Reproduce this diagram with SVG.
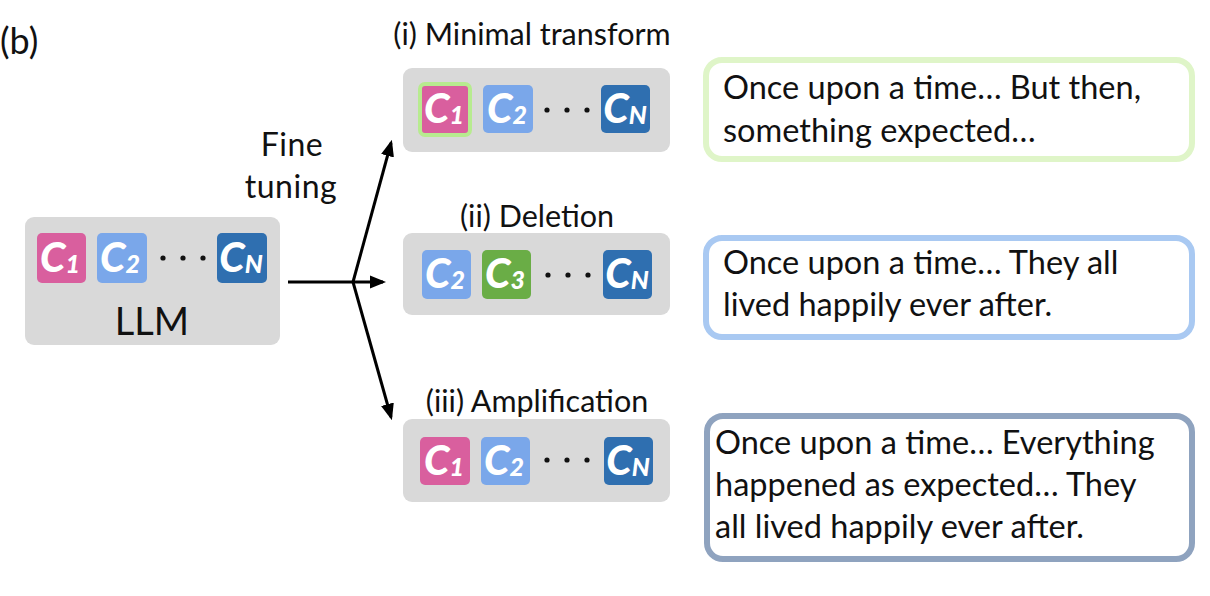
<svg xmlns="http://www.w3.org/2000/svg" width="1210" height="596" viewBox="0 0 1210 596">
<style>
  .t { font-family: Lato, "Open Sans", "Liberation Sans", sans-serif; fill: #111; }
  .story-t { font-size: 32.5px; }
  .title { font-size: 30.5px; }
  .panel { fill: #d9d9d9; }
  .chip text { font-family: Lato, "Liberation Sans", sans-serif; font-weight: 900; font-style: italic; fill: #fff; font-size: 41px; }
  .sub { font-size: 25px; }
  .c1 { fill: #d95f9e; }
  .c2 { fill: #7aa7ea; }
  .c3 { fill: #6aad46; }
  .cn { fill: #2f6fb0; }
  .dot { fill: #111; }
  .story { fill: #fff; stroke-width: 6; }
  .arrow { stroke: #000; stroke-width: 3; fill: none; marker-end: url(#ah); }
</style>
<defs>
  <marker id="ah" viewBox="0 0 10 8" refX="8" refY="4" markerWidth="5.5" markerHeight="4.4" orient="auto" markerUnits="strokeWidth">
    <path d="M0,0 L10,4 L0,8 z" fill="#000"/>
  </marker>
  <g id="dots">
    <circle cx="0" cy="0" r="2.6" class="dot"/>
    <circle cx="20" cy="0" r="2.6" class="dot"/>
    <circle cx="40" cy="0" r="2.6" class="dot"/>
  </g>
</defs>
<rect width="1210" height="596" fill="#fff"/>
<text class="t" x="0" y="54" font-size="36">(b)</text>

<g id="llm">
  <rect class="panel" x="25" y="217" width="255" height="128" rx="9"/>
  <g class="chip" transform="translate(37,233)"><rect class="c1" width="49" height="50" rx="5"/><text x="23" y="39" text-anchor="middle">C<tspan class="sub" dy="1">1</tspan></text></g>
  <g class="chip" transform="translate(97,233)"><rect class="c2" width="50" height="50" rx="5"/><text x="23" y="39" text-anchor="middle">C<tspan class="sub" dy="1">2</tspan></text></g>
  <use href="#dots" x="163" y="258"/>
  <g class="chip" transform="translate(217,233)"><rect class="cn" width="50" height="50" rx="5"/><text x="24" y="39" text-anchor="middle">C<tspan class="sub" dy="1">N</tspan></text></g>
  <text class="t" x="152" y="335" font-size="38" text-anchor="middle">LLM</text>
</g>

<g id="finetune-label">
  <text class="t" x="292" y="156" font-size="32" text-anchor="middle" letter-spacing="0.5">Fine</text>
  <text class="t" x="291" y="198" font-size="32" text-anchor="middle" letter-spacing="0.5">tuning</text>
</g>

<g id="connectors">
  <line class="arrow" x1="288" y1="282" x2="383" y2="282"/>
  <polyline class="arrow" points="353,282 391,143"/>
  <polyline class="arrow" points="353,282 391,417"/>
</g>

<g id="minimal">
  <text class="t title" x="532" y="45" text-anchor="middle">(i) Minimal transform</text>
  <rect class="panel" x="403" y="68" width="267" height="84" rx="9"/>
  <g class="chip" transform="translate(420,84)"><rect class="c1" width="50" height="51" rx="5" stroke="#b7eb8f" stroke-width="4"/><text x="24" y="39" text-anchor="middle">C<tspan class="sub" dy="1">1</tspan></text></g>
  <g class="chip" transform="translate(483,85)"><rect class="c2" width="50" height="48" rx="5"/><text x="24" y="38" text-anchor="middle">C<tspan class="sub" dy="1">2</tspan></text></g>
  <use href="#dots" x="547" y="110"/>
  <g class="chip" transform="translate(601,85)"><rect class="cn" width="49" height="48" rx="5"/><text x="24" y="38" text-anchor="middle">C<tspan class="sub" dy="1">N</tspan></text></g>
</g>

<g id="deletion">
  <text class="t title" x="537" y="227" text-anchor="middle">(ii) Deletion</text>
  <rect class="panel" x="403" y="233" width="267" height="82" rx="9"/>
  <g class="chip" transform="translate(422,250)"><rect class="c2" width="49" height="49" rx="5"/><text x="23" y="38" text-anchor="middle">C<tspan class="sub" dy="1">2</tspan></text></g>
  <g class="chip" transform="translate(482,250)"><rect class="c3" width="49" height="49" rx="5"/><text x="23" y="38" text-anchor="middle">C<tspan class="sub" dy="1">3</tspan></text></g>
  <use href="#dots" x="548" y="275"/>
  <g class="chip" transform="translate(603,250)"><rect class="cn" width="49" height="49" rx="5"/><text x="24" y="38" text-anchor="middle">C<tspan class="sub" dy="1">N</tspan></text></g>
</g>

<g id="amplification">
  <text class="t title" x="537" y="412" text-anchor="middle">(iii) Amplification</text>
  <rect class="panel" x="403" y="419" width="267" height="83" rx="9"/>
  <g class="chip" transform="translate(420,437)"><rect class="c1" width="50" height="48" rx="5"/><text x="24" y="38" text-anchor="middle">C<tspan class="sub" dy="1">1</tspan></text></g>
  <g class="chip" transform="translate(481,437)"><rect class="c2" width="49" height="48" rx="5"/><text x="23" y="38" text-anchor="middle">C<tspan class="sub" dy="1">2</tspan></text></g>
  <use href="#dots" x="547" y="460"/>
  <g class="chip" transform="translate(604,437)"><rect class="cn" width="49" height="48" rx="5"/><text x="24" y="38" text-anchor="middle">C<tspan class="sub" dy="1">N</tspan></text></g>
</g>

<g id="story1">
  <rect class="story" x="706" y="60" width="486" height="99" rx="16" stroke="#dff5c8"/>
  <text class="t story-t" x="723" y="99">Once upon a time… But then,</text>
  <text class="t story-t" x="723" y="142">something expected…</text>
</g>

<g id="story2">
  <rect class="story" x="706" y="238" width="486" height="99" rx="16" stroke="#a9c9f2"/>
  <text class="t story-t" x="723" y="274">Once upon a time… They all</text>
  <text class="t story-t" x="723" y="316">lived happily ever after.</text>
</g>

<g id="story3">
  <rect class="story" x="707" y="416" width="485" height="143" rx="16" stroke="#8fa3bf" stroke-width="7"/>
  <text class="t story-t" x="715" y="454">Once upon a time… Everything</text>
  <text class="t story-t" x="715" y="496">happened as expected… They</text>
  <text class="t story-t" x="715" y="538">all lived happily ever after.</text>
</g>
</svg>
